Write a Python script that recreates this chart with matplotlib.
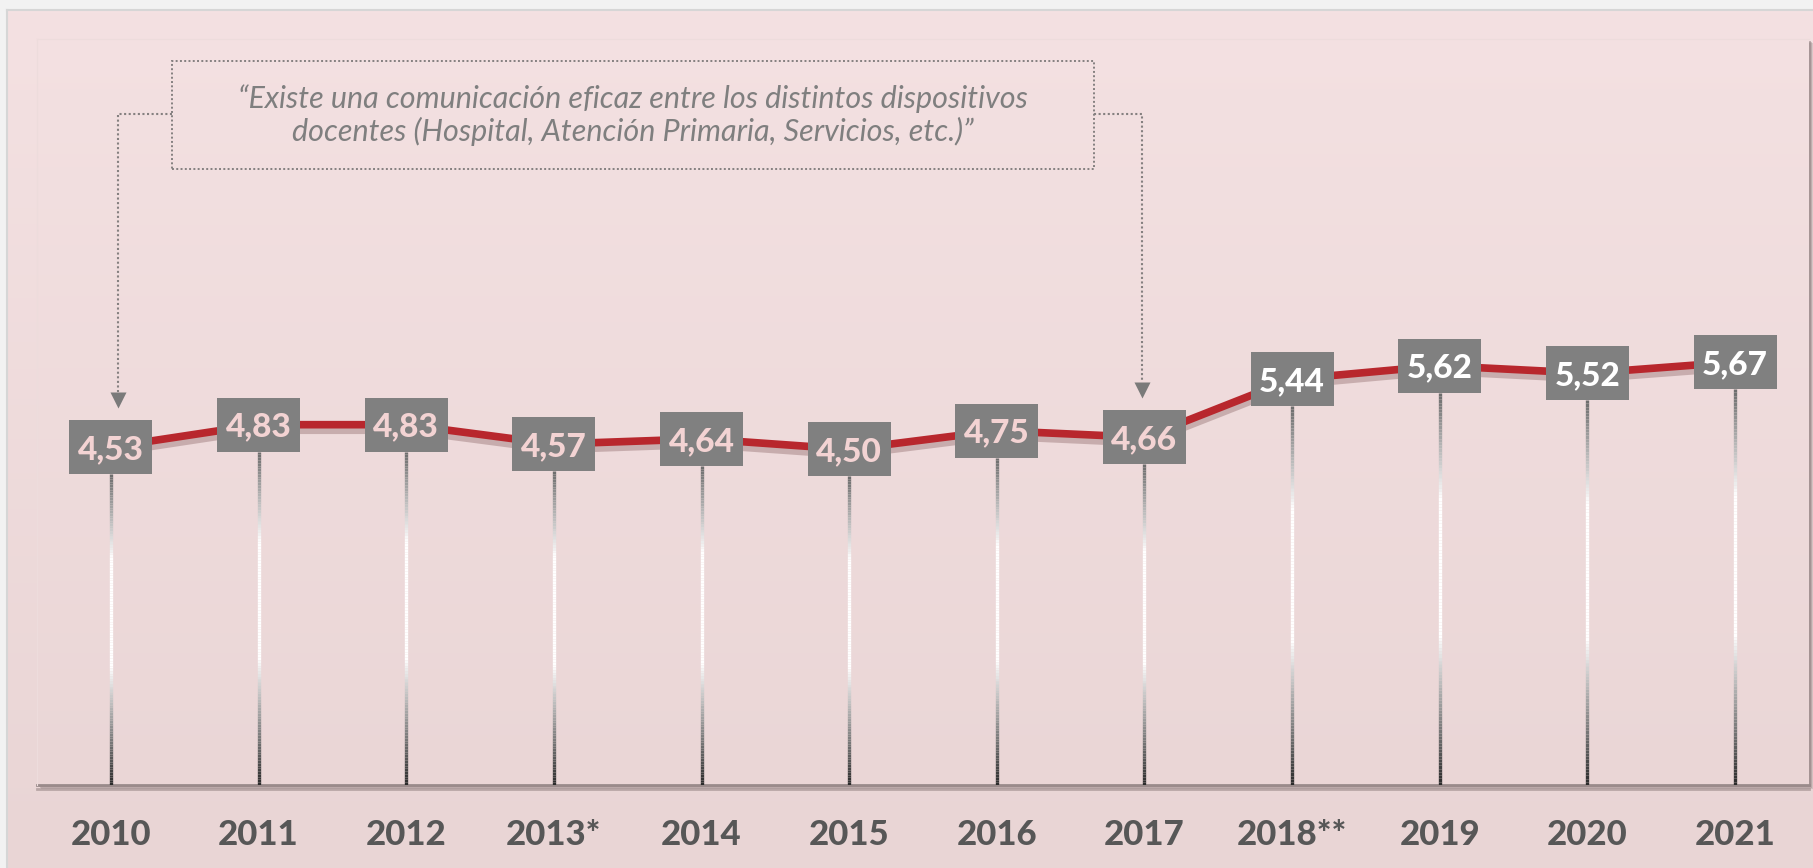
import numpy as np
import matplotlib
matplotlib.use('Agg')
import matplotlib.pyplot as plt
from matplotlib.collections import LineCollection
from matplotlib.patches import Rectangle
from matplotlib import patheffects as pe
from matplotlib.transforms import offset_copy
from matplotlib.colors import LinearSegmentedColormap

# ---------------- data ----------------
years = ['2010', '2011', '2012', '2013*', '2014', '2015', '2016', '2017',
         '2018**', '2019', '2020', '2021']
values = [4.53, 4.83, 4.83, 4.57, 4.64, 4.50, 4.75, 4.66, 5.44, 5.62, 5.52, 5.67]
value_labels = [f'{v:.2f}'.replace('.', ',') for v in values]
highlight_from = '2018**'   # labels from this year on are white
annotation_lines = ['“Existe una comunicación eficaz entre los distintos dispositivos',
                    'docentes (Hospital, Atención Primaria, Servicios, etc.)”']
arrow_targets = ['2010', '2017']

# ---------------- layout ----------------
W, H = 1813, 868
fig = plt.figure(figsize=(W / 100, H / 100), dpi=100, facecolor='#f2f2f2')

top_c = np.array([244, 225, 226]) / 255
bot_c = np.array([233, 213, 213]) / 255
def col_at(py):
    t = (py - 10) / (H - 10)
    return tuple(top_c + (bot_c - top_c) * t)

# outer panel
bg = fig.add_axes([7 / W, 0, 1 - 7 / W, 1 - 10 / H], zorder=-5)
grad = np.linspace(0, 1, 256).reshape(-1, 1)
bg.imshow(grad, aspect='auto', extent=[0, 1, 0, 1], origin='upper',
          cmap=LinearSegmentedColormap.from_list('bg', [col_at(10), col_at(H)]))
bg.set_xticks([]); bg.set_yticks([])
for s in ['right', 'bottom']:
    bg.spines[s].set_visible(False)
for s in ['left', 'top']:
    bg.spines[s].set_color('#d6d6d6'); bg.spines[s].set_linewidth(1.5)

# plot-area shadow
L, R, T, B = 37, 1809, 39, 785
for k, a in [(4, 0.25), (3, 0.35), (2, 0.5)]:
    fig.patches.append(Rectangle(((L + k) / W, 1 - (B + k) / H), (R - L) / W, (B - T) / H,
                                 transform=fig.transFigure, fc='#8f7f7f', ec='none',
                                 alpha=a, zorder=-1))

ax = fig.add_axes([L / W, 1 - B / H, (R - L) / W, (B - T) / H], zorder=0)
n = len(years)
x = np.arange(n)
ax.imshow(grad, aspect='auto', extent=[-0.5, n - 0.5, 0, 10], origin='upper', zorder=0,
          cmap=LinearSegmentedColormap.from_list('in', [col_at(T), col_at(B)]))
ax.set_xlim(-0.5, n - 0.5)
ax.set_ylim(0, 10)
ax.set_xticks([]); ax.set_yticks([])
for s in ax.spines.values():
    s.set_visible(False)
ax.spines['left'].set_visible(True); ax.spines['left'].set_color('#eddcdc')
ax.spines['top'].set_visible(True); ax.spines['top'].set_color('#eddcdc')

px_x = (R - L) / n
px_y = (B - T) / 10.0
bw, bh = 83 / px_x, 54 / px_y

# bottom axis line
ax.axhline(0, color='#9a8b8b', lw=2, zorder=2, clip_on=False,
           path_effects=[pe.SimpleLineShadow(offset=(0, -3), shadow_color='#7d6d6d', alpha=0.45),
                         pe.Normal()])

# gradient drop lines
cm_line = LinearSegmentedColormap.from_list(
    'drop', [(0, '#6c6c6c'), (0.27, '#ffffff'), (0.62, '#ffffff'), (1, '#2a2a2a')])
segs, cols = [], []
N = 120
for xi, v in zip(x, values):
    ys = np.linspace(v - bh / 2, 0, N + 1)
    for k in range(N):
        segs.append([(xi, ys[k]), (xi, ys[k + 1])])
        cols.append(cm_line((k + 0.5) / N))
ax.add_collection(LineCollection(segs, colors=cols, linewidths=2.4, capstyle='butt', zorder=2))

# red series line
ax.plot(x, values, color='#b8272d', lw=5.5, solid_joinstyle='round', solid_capstyle='round', zorder=3,
        path_effects=[pe.SimpleLineShadow(offset=(0, -4), shadow_color='#6e4444', alpha=0.3),
                      pe.Normal()])

# value boxes and labels
hi = years.index(highlight_from)
for i, (xi, v, lab) in enumerate(zip(x, values, value_labels)):
    ax.add_patch(Rectangle((xi - bw / 2, v - bh / 2), bw, bh, fc='#808080', ec='none', zorder=4))
    ax.text(xi, v, lab, transform=offset_copy(ax.transData, fig=fig, y=-12, units='dots'),
            ha='center', va='baseline', fontsize=24, fontweight='black', family='Lato',
            color='white' if i >= hi else '#f3d3d3', zorder=5)

# year labels
for xi, yr in zip(x, years):
    ax.text(xi, 0, yr, transform=offset_copy(ax.transData, fig=fig, y=-60, units='dots'),
            ha='center', va='baseline', fontsize=25, fontweight='black', family='Lato',
            color='#575757', clip_on=False)

# annotation box
bx0, bx1, by0, by1 = 0.415, 6.661, 8.26, 9.705
dot = (0, (1, 1.2))
gcol = '#858080'
ax.add_patch(Rectangle((bx0, by0), bx1 - bx0, by1 - by0, fill=False, ec=gcol, lw=1.4,
                       ls=dot, zorder=3))
cx = (bx0 + bx1) / 2
ax.text(cx, 9.07, annotation_lines[0], ha='center', va='baseline', fontsize=22,
        style='italic', family='Lato', color='#7f7f7f', zorder=5)
ax.text(cx, 8.63, annotation_lines[1], ha='center', va='baseline', fontsize=22,
        style='italic', family='Lato', color='#7f7f7f', zorder=5)

# connectors with arrows
cy = 8.99
ms = 11.5
tri_h = ms * 100 / 72 / px_y
gap = 12 / px_y
for tgt, xoff, start in [(arrow_targets[0], 0.05, bx0), (arrow_targets[1], -0.015, bx1)]:
    j = years.index(tgt)
    xa = x[j] + xoff
    tip = values[j] + bh / 2 + gap
    ax.plot([start, xa, xa], [cy, cy, tip + tri_h], color=gcol, lw=1.5, ls=dot, zorder=3)
    ax.plot([xa], [tip + tri_h / 2], marker='v', ms=ms, color='#7a7a7a', mec='none', zorder=3)

fig.savefig('out.png', dpi=100, facecolor=fig.get_facecolor())
